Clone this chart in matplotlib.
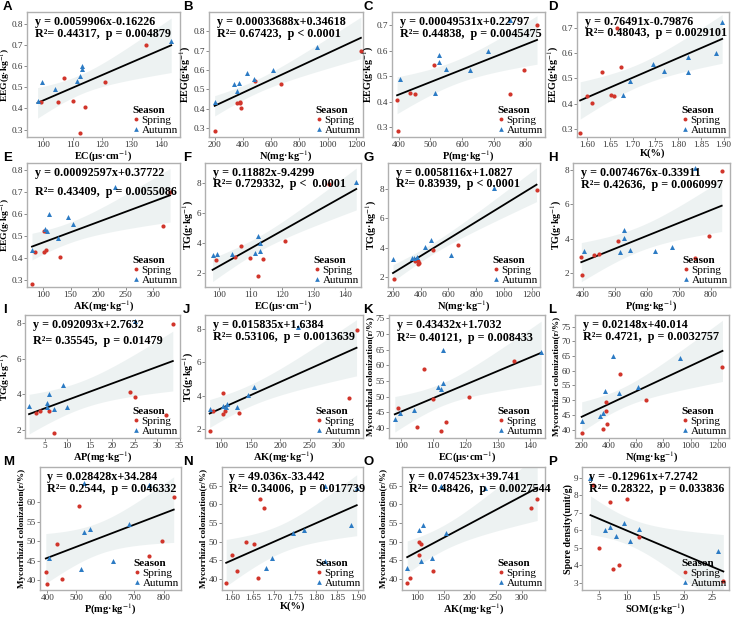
import numpy as np
import matplotlib
matplotlib.use('Agg')
import matplotlib.pyplot as plt
from matplotlib.lines import Line2D
from matplotlib.ticker import FormatStrFormatter

plt.rcParams['font.family'] = ['Liberation Serif', 'DejaVu Serif']
plt.rcParams['mathtext.fontset'] = 'stix'

# 16 samples: first 8 spring, last 8 autumn
season = ['Spring'] * 8 + ['Autumn'] * 8
ec = [99, 105, 107, 110, 112.5, 114, 121, 135,
      98, 99.5, 104, 111.5, 112.5, 113, 113, 143.5]
n = [380, 360, 485, 380, 205, 385, 670, 1235,
     200, 335, 355, 370, 475, 430, 615, 925]
p = [750, 450, 510, 435, 398, 395, 795, 835,
     515, 625, 405, 548, 528, 528, 680, 750]
k = [1.60, 1.66, 1.675, 1.652, 1.585, 1.612, 1.633, 1.665,
     1.68, 1.822, 1.695, 1.77, 1.745, 1.822, 1.883, 1.897]
ak = [102, 85, 318, 106, 80, 130, 102, 330,
      80, 107, 127, 103, 155, 145, 110, 230]
ap = [32, 4, 25, 6, 7, 3, 24, 33.5,
      7, 5.5, 10, 1.5, 9, 6, 5.5, 25]
eeg = [0.43, 0.43, 0.545, 0.435, 0.285, 0.405, 0.525, 0.70,
       0.435, 0.525, 0.49, 0.53, 0.555, 0.585, 0.60, 0.72]
tg = [2.87, 3.1, 3.85, 3.05, 1.85, 2.95, 4.15, 7.95,
      3.2, 3.3, 3.3, 3.35, 4.5, 4.05, 3.5, 8.1]
myc = [46.3, 40.3, 59, 49.3, 39, 42, 50, 61.3,
       42.8, 44.8, 45.7, 53, 52.3, 65, 54.4, 64.4]
som = [4.0, 5.0, 7.0, 7.5, 8.5, 10.0, 12.0, 27.0,
       3.5, 6.0, 7.0, 8.0, 9.5, 10.5, 12.0, 26.0]
spore = [8.6, 5.0, 7.6, 3.8, 4.0, 7.8, 5.6, 3.1,
         9.0, 6.0, 6.2, 5.7, 6.4, 5.4, 6.1, 4.8]

lab_ec = r'EC(μs·cm$^{-1}$)'
lab_n = r'N(mg·kg$^{-1}$)'
lab_p = r'P(mg·kg$^{-1}$)'
lab_k = 'K(%)'
lab_ak = r'AK(mg·kg$^{-1}$)'
lab_ap = r'AP(mg·kg$^{-1}$)'
lab_som = r'SOM(g·kg$^{-1}$)'
lab_eeg = r'EEG(g·kg$^{-1}$)'
lab_tg = r'TG(g·kg$^{-1}$)'
lab_myc = 'Mycorrhizal colonization(r/%)'
lab_spore = 'Spore density(unit/g)'

panels = [
    ('A', ec, eeg, lab_ec, lab_eeg, 'y = 0.0059906x-0.16226', 'R²= 0.44317,  p = 0.004879'),
    ('B', n, eeg, lab_n, lab_eeg, 'y = 0.00033688x+0.34618', 'R²= 0.67423,  p < 0.0001'),
    ('C', p, eeg, lab_p, lab_eeg, 'y = 0.00049531x+0.22797', 'R²= 0.44838,  p = 0.0045475'),
    ('D', k, eeg, lab_k, lab_eeg, 'y = 0.76491x-0.79876', 'R²= 0.48043,  p = 0.0029101'),
    ('E', ak, eeg, lab_ak, lab_eeg, 'y = 0.00092597x+0.37722', 'R²= 0.43409,  p = 0.0055086'),
    ('F', ec, tg, lab_ec, lab_tg, 'y = 0.11882x-9.4299', 'R²= 0.729332,  p <  0.0001'),
    ('G', n, tg, lab_n, lab_tg, 'y = 0.0058116x+1.0827', 'R²= 0.83939,  p < 0.0001'),
    ('H', p, tg, lab_p, lab_tg, 'y = 0.0074676x-0.33911', 'R²= 0.42636,  p = 0.0060997'),
    ('I', ap, tg, lab_ap, lab_tg, 'y = 0.092093x+2.7632', 'R²= 0.35545,  p = 0.01479'),
    ('J', ak, tg, lab_ak, lab_tg, 'y = 0.015835x+1.6384', 'R²= 0.53106,  p = 0.0013639'),
    ('K', ec, myc, lab_ec, lab_myc, 'y = 0.43432x+1.7032', 'R²= 0.40121,  p = 0.008433'),
    ('L', n, myc, lab_n, lab_myc, 'y = 0.02148x+40.014', 'R²= 0.4721,  p = 0.0032757'),
    ('M', p, myc, lab_p, lab_myc, 'y = 0.028428x+34.284', 'R²= 0.2544,  p = 0.046332'),
    ('N', k, myc, lab_k, lab_myc, 'y = 49.036x-33.442', 'R²= 0.34006,  p = 0.017739'),
    ('O', ak, myc, lab_ak, lab_myc, 'y = 0.074523x+39.741', 'R²= 0.48426,  p = 0.0027544'),
    ('P', som, spore, lab_som, lab_spore, 'y = -0.12961x+7.2742', 'R²= 0.28322,  p = 0.033836'),
]

# axis ranges / ticks per panel
xlims = [(94.4, 146.5), (160, 1250), (379, 860), (1.578, 1.912),
         (71, 348), (95.6, 145), (164, 1260), (369, 861),
         (0.6, 35.1), (72, 341), (96.2, 144.7), (151, 1283),
         (375, 860), (1.575, 1.912), (70, 345), (2, 28)]
ylims = [(0.265, 0.855), (0.253, 0.90), (0.26, 0.753), (0.27, 0.761),
         (0.27, 0.83), (1.1, 9.34), (1.3, 9.8), (1.18, 8.39),
         (1.57, 8.43), (1.45, 8.85), (36.8, 76.1), (37.2, 78.9),
         (37.5, 69), (37, 70), (37, 70), (2.6, 9.6)]
xticks = [np.arange(100, 141, 10), np.arange(200, 1201, 200), np.arange(400, 801, 100), np.arange(1.6, 1.91, 0.05),
          np.arange(100, 301, 50), np.arange(100, 141, 10), np.arange(200, 1201, 200), np.arange(400, 801, 100),
          np.arange(5, 36, 5), np.arange(100, 301, 50), np.arange(100, 141, 10), np.arange(200, 1201, 200),
          np.arange(400, 801, 100), np.arange(1.6, 1.91, 0.05), np.arange(100, 301, 50), np.arange(5, 26, 5)]
yticks = [np.arange(0.3, 0.81, 0.1), np.arange(0.3, 0.81, 0.1), np.arange(0.3, 0.71, 0.1), np.arange(0.3, 0.71, 0.1),
          np.arange(0.3, 0.81, 0.1), np.arange(2, 9, 2), np.arange(2, 9, 2), np.arange(2, 9, 2),
          np.arange(2, 9, 2), np.arange(2, 9, 2), np.arange(40, 76, 5), np.arange(40, 76, 5),
          np.arange(40, 61, 5), np.arange(40, 66, 5), np.arange(40, 66, 5), np.arange(3, 10, 1)]
xfmt = ['%d', '%d', '%d', '%.2f', '%d', '%d', '%d', '%d',
        '%d', '%d', '%d', '%d', '%d', '%.2f', '%d', '%d']
yfmt = ['%.1f'] * 5 + ['%d'] * 11

# axes boxes in pixels: left, right, top, bottom
boxes = [(27, 180, 12, 137), (209, 363, 12, 137), (392, 545, 12, 137), (577, 729, 12, 137),
         (27, 180, 163, 287), (205, 361, 163, 287), (388, 540, 163, 287), (573, 730, 163, 287),
         (25, 180, 315, 438), (205, 363, 315, 438), (389, 545, 315, 438), (575, 729, 315, 438),
         (40, 181, 467, 590), (222, 363, 467, 590), (402, 545, 467, 590), (582, 729, 467, 590)]
line2_y = [0.82, 0.82, 0.82, 0.83, 0.77, 0.83, 0.83, 0.82,
           0.79, 0.82, 0.81, 0.82, 0.82, 0.82, 0.82, 0.82]
letter_x = [3, 183, 363, 548]

red = '#d1352b'
blue = '#2c7bc4'
W, H = 732, 620

fig = plt.figure(figsize=(W / 100, H / 100), dpi=100)

for i, (letter, xs, ys, xl, yl, eq1, eq2) in enumerate(panels):
    l, r, t, b = boxes[i]
    ax = fig.add_axes([l / W, 1 - b / H, (r - l) / W, (b - t) / H])
    x = np.array(xs, dtype=float)
    y = np.array(ys, dtype=float)

    # linear fit and 95% confidence band
    slope, icpt = np.polyfit(x, y, 1)
    xx = np.linspace(x.min(), x.max(), 100)
    yy = slope * xx + icpt
    resid = y - (slope * x + icpt)
    s = np.sqrt(np.sum(resid ** 2) / (len(x) - 2))
    sxx = np.sum((x - x.mean()) ** 2)
    ci = 2.145 * s * np.sqrt(1 / len(x) + (xx - x.mean()) ** 2 / sxx)
    ax.fill_between(xx, yy - ci, yy + ci, color='#e2eaea', alpha=0.6, lw=0)
    ax.plot(xx, yy, color='black', lw=1.3)

    spr = np.array(season) == 'Spring'
    ax.scatter(x[spr], y[spr], s=9, color=red, marker='o', lw=0, zorder=3)
    ax.scatter(x[~spr], y[~spr], s=13, color=blue, marker='^', lw=0, zorder=3)

    ax.set_xlim(xlims[i])
    ax.set_ylim(ylims[i])
    ax.set_xticks(xticks[i])
    ax.set_yticks(yticks[i])
    ax.xaxis.set_major_formatter(FormatStrFormatter(xfmt[i]))
    ax.yaxis.set_major_formatter(FormatStrFormatter(yfmt[i]))
    ax.tick_params(labelsize=6.6, length=2, width=0.6, pad=0.8, color='#777777', labelcolor='#333333')
    for sp in ax.spines.values():
        sp.set_color('#b0b0b0')
        sp.set_linewidth(1.0)

    ax.set_xlabel(xl, fontsize=7.5, fontweight='bold', labelpad=0)
    if i % 4 == 0 and i < 12:
        # first column: keep the y label inside the figure
        ax.set_ylabel(yl, fontsize=6.8, fontweight='bold')
        ax.yaxis.set_label_coords((12.8 - l) / (r - l), 0.5)
    else:
        ax.set_ylabel(yl, fontsize=6.6 if yl == lab_myc else 7.2, fontweight='bold', labelpad=0.5)

    ax.text(0.05, 0.92, eq1, transform=ax.transAxes, fontsize=8.7, fontweight='bold', va='center')
    ax.text(0.05, line2_y[i], eq2, transform=ax.transAxes, fontsize=8.7, fontweight='bold', va='center')

    handles = [Line2D([], [], ls='', marker='o', ms=2.8, color=red, mec='none'),
               Line2D([], [], ls='', marker='^', ms=3.4, color=blue, mec='none')]
    leg = ax.legend(handles, ['Spring', 'Autumn'], title='Season', loc='lower right',
                    frameon=False, fontsize=8, title_fontsize=8, borderaxespad=0.1,
                    borderpad=0.1, labelspacing=0.0, handlelength=0.6, handletextpad=0.2,
                    alignment='left')
    leg.get_title().set_fontweight('bold')

    fig.text(letter_x[i % 4] / W, 1 - (t - 11) / H, letter,
             family='Liberation Sans', fontsize=9.5, fontweight='bold', va='top')

fig.savefig('out.png', dpi=100)
